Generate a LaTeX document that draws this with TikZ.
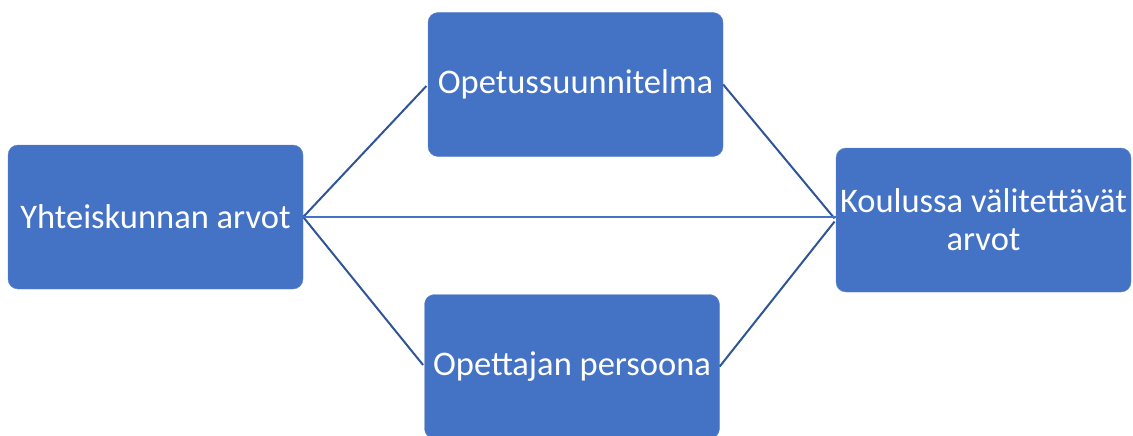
\documentclass[tikz,border=0pt]{standalone}
\usepackage{fontspec}
\setmainfont{Carlito}
\definecolor{boxblue}{HTML}{4472C4}
\definecolor{lineblue}{HTML}{2F5597}
\tikzset{
  box/.style={rectangle,rounded corners=10pt,fill=boxblue,draw=boxblue!85!white,
    text=white,minimum width=295pt,minimum height=144pt,align=center,
    inner sep=4pt,font=\fontsize{34.5}{38}\selectfont},
  link/.style={lineblue,line width=2pt,shorten >=2pt},
  flatlink/.style={boxblue,line width=1.2pt}
}
\begin{document}
\begin{tikzpicture}[x=1pt,y=-1pt]
	\useasboundingbox (0,0) rectangle (1133,436);

	\foreach \name/\x/\y/\txt in {yht/155.5/217/Yhteiskunnan arvot,
	    ops/575.5/84.5/Opetussuunnitelma,
	    ope/572/366.5/Opettajan persoona,
	    kou/983.5/220/{Koulussa välitettävät\\arvot}} {
	  \node[box] (\name) at (\x,\y) {\txt};
    }

    \foreach \a/\b in {yht/ops,yht/ope,ops/kou,ope/kou} {
	  \draw[link] (\a.east) -- (\b.west);
    }

    \draw[flatlink] (yht.east) -- (yht.east -| kou.west);
  \end{tikzpicture}
\end{document}
